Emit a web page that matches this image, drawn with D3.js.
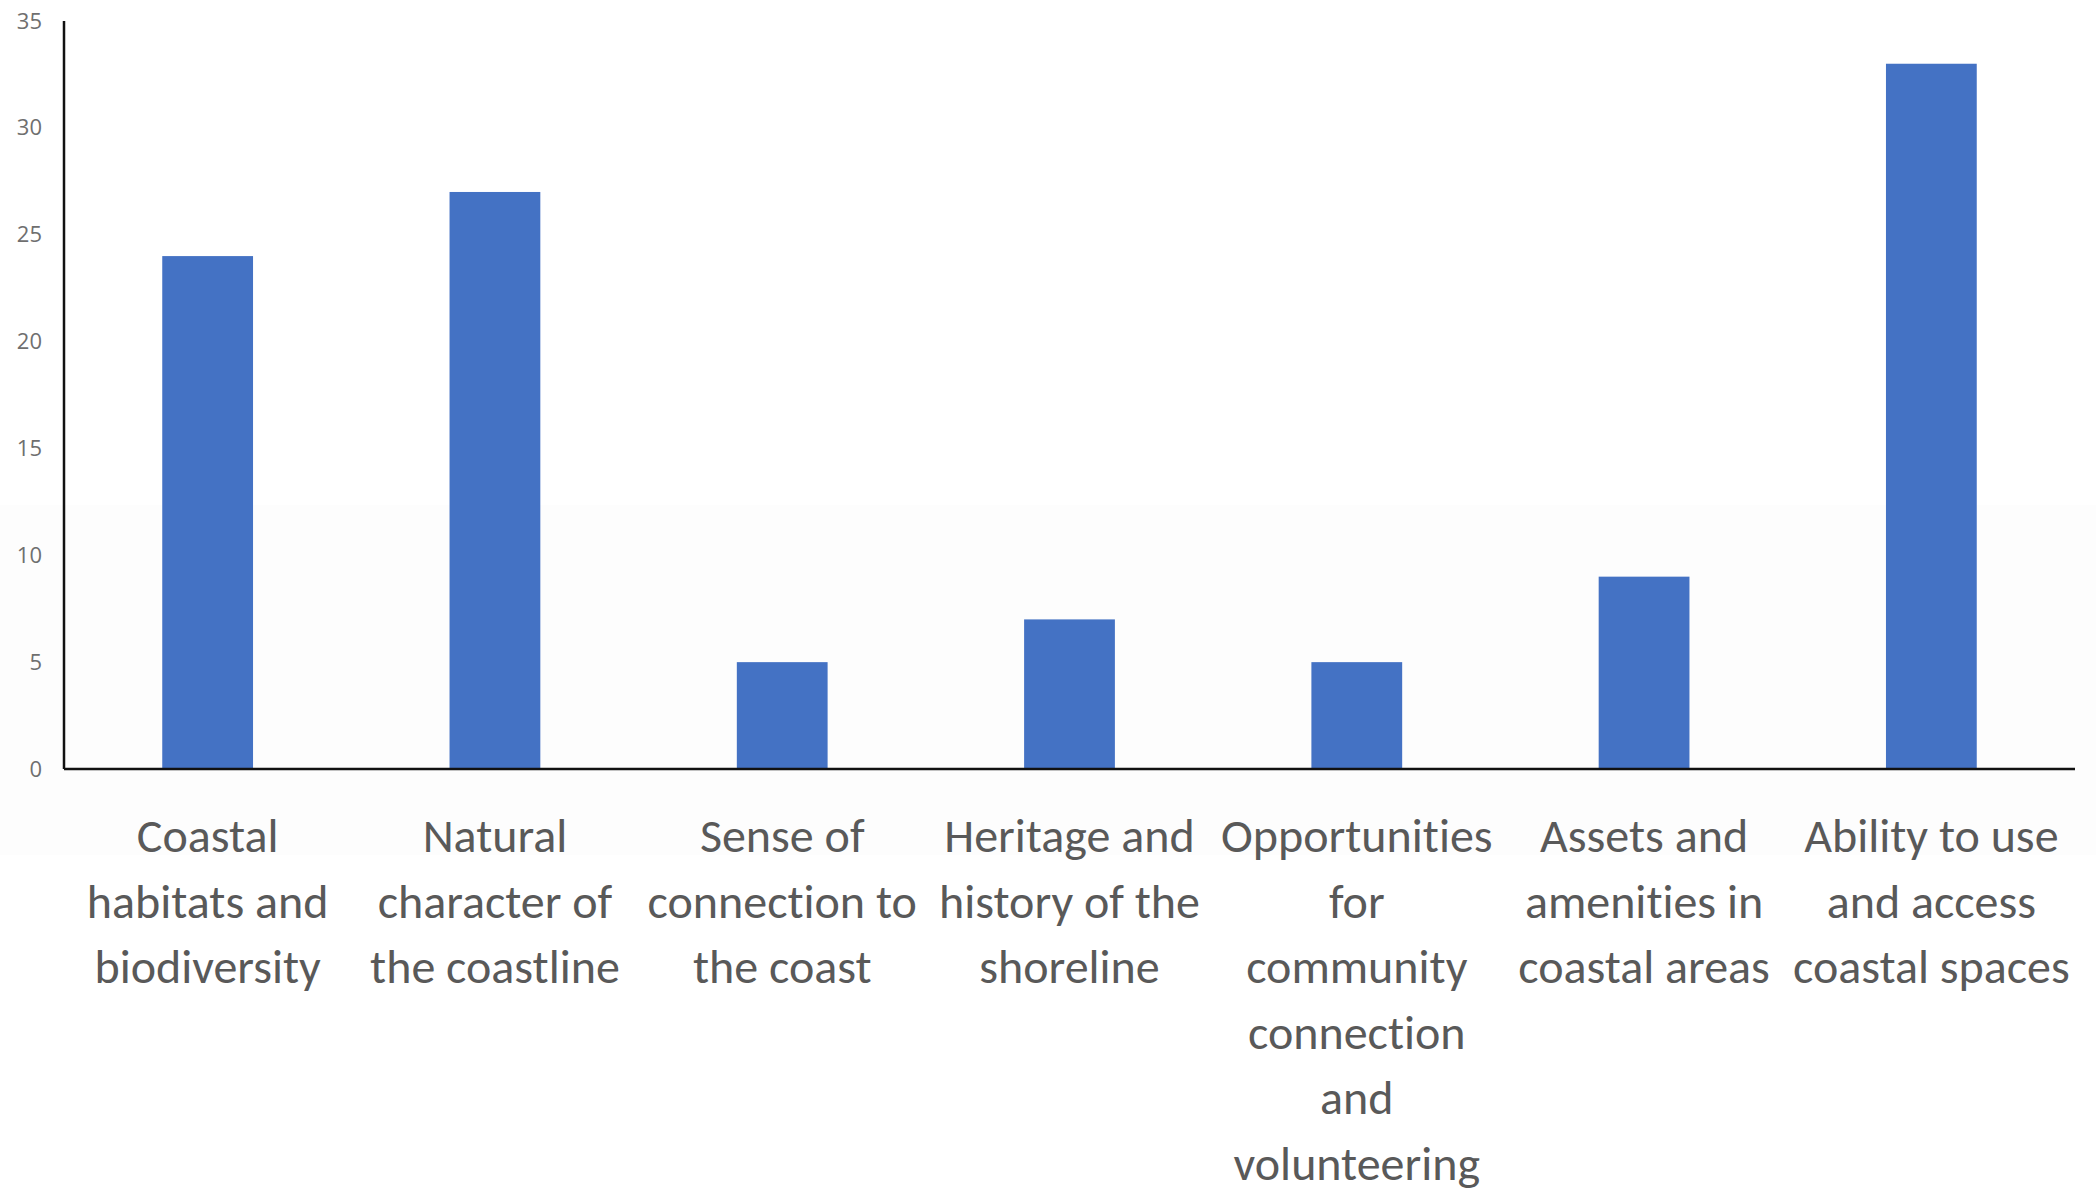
<!DOCTYPE html>
<html>
<head>
<meta charset="utf-8">
<script src="https://cdn.jsdelivr.net/npm/d3@7"></script>
<style>
  body { margin: 0; background: #fff; }
  #chart text.cat { font-family: Carlito, "Liberation Sans Narrow", Lato, sans-serif; font-variant-ligatures: none; }
</style>
</head>
<body>
<div id="chart"></div>
<script>
// category labels, already broken into lines as in the picture
const categories = [
    ["Coastal", "habitats and", "biodiversity"],
    ["Natural", "character of", "the coastline"],
    ["Sense of", "connection to", "the coast"],
    ["Heritage and", "history of the", "shoreline"],
    ["Opportunities", "for", "community", "connection", "and", "volunteering"],
    ["Assets and", "amenities in", "coastal areas"],
    ["Ability to use", "and access", "coastal spaces"]
];
const values = [24, 27, 5, 7, 5, 9, 33];
const yTicks = [0, 5, 10, 15, 20, 25, 30, 35];

const W = 2096, H = 1189;
const margin = { top: 21, right: 21, bottom: 420, left: 64 };
const width = W - margin.left - margin.right;
const height = H - margin.top - margin.bottom;

const svg = d3.select("#chart").append("svg")
    .attr("width", W)
    .attr("height", H);

// faint grey band from the original screenshot
svg.append("rect")
    .attr("x", 0).attr("y", 505)
    .attr("width", W).attr("height", 350)
    .attr("fill", "#fdfdfd");

const g = svg.append("g")
    .attr("transform", "translate(" + margin.left + "," + margin.top + ")");

const keys = categories.map(c => c.join(" "));

const x = d3.scaleBand()
    .domain(keys)
    .range([0, width])
    .paddingInner(0.684)
    .paddingOuter(0.342);

const y = d3.scaleLinear()
    .domain([0, 35])
    .range([height, 0]);

// bars
g.selectAll("rect.bar")
    .data(values)
    .join("rect")
    .attr("class", "bar")
    .attr("x", (d, i) => x(keys[i]))
    .attr("y", d => y(d))
    .attr("width", x.bandwidth())
    .attr("height", d => height - y(d))
    .attr("fill", "#4472C4");

// y axis labels
const yAxis = g.append("g")
    .call(d3.axisLeft(y).tickValues(yTicks).tickSize(0).tickPadding(22));
yAxis.select(".domain").remove();
yAxis.selectAll("text")
    .attr("fill", "#6f6f6f")
    .style("font-family", "'Open Sans', sans-serif")
    .style("font-size", "22px");

// axis lines
g.append("line")
    .attr("x1", 0).attr("x2", 0)
    .attr("y1", 0).attr("y2", height)
    .attr("stroke", "#111").attr("stroke-width", 2.5);
g.append("line")
    .attr("x1", 0).attr("x2", width)
    .attr("y1", height).attr("y2", height)
    .attr("stroke", "#111").attr("stroke-width", 2.5);

// category labels
const lineH = 65.5;
const labels = g.selectAll("text.cat")
    .data(categories)
    .join("text")
    .attr("class", "cat")
    .attr("text-anchor", "middle")
    .attr("fill", "#595959")
    .style("font-size", "48px")
    .attr("transform", (d, i) => "translate(" + (x(keys[i]) + x.bandwidth() / 2) + "," + (height + 83) + ")");

labels.selectAll("tspan")
    .data(d => d)
    .join("tspan")
    .attr("x", 0)
    .attr("y", (d, i) => i * lineH)
    .text(d => d);
</script>
</body>
</html>
